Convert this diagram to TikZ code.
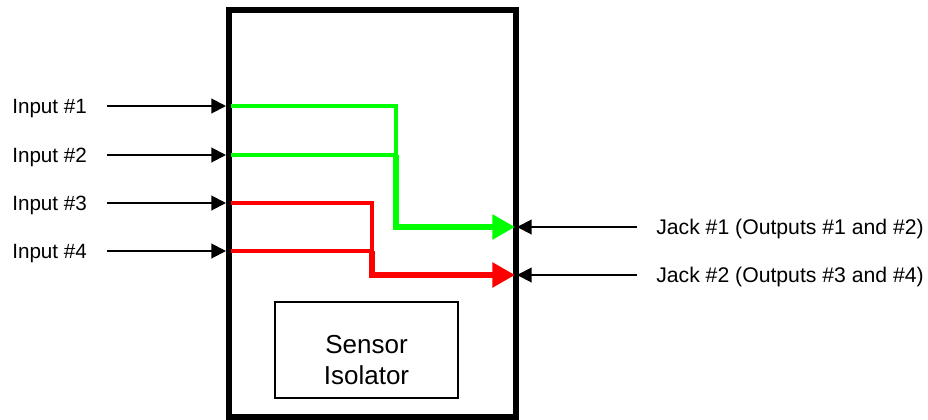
\documentclass[tikz,border=0pt]{standalone}
\usepackage{fontspec}
\setmainfont{Liberation Sans}
\usetikzlibrary{arrows.meta}
\definecolor{sig1}{RGB}{0,255,0}
\definecolor{sig2}{RGB}{255,0,0}
\begin{document}
\begin{tikzpicture}[x=0.75pt,y=-0.75pt,
  lbl/.style={font=\fontsize{15.5pt}{18pt}\selectfont, inner sep=0pt},
  jlbl/.style={font=\fontsize{15.9pt}{18pt}\selectfont, inner sep=0pt},
  feed/.style={line width=1.5pt,-{Triangle[length=11pt,width=11pt]}},
  route/.style={line width=2.4pt, line join=miter},
  trunk/.style={line width=5.2pt, line join=miter,-{Triangle[length=17pt,width=18pt]}}]
\useasboundingbox (0,0) rectangle (928,419);

% enclosure
\node[draw, line width=4.5pt, minimum width=215.25pt, minimum height=305.25pt, inner sep=0pt] (unit) at (372,213.5) {};

% isolator block
\node[draw, line width=0.8pt, minimum width=137.25pt, minimum height=72pt, inner sep=0pt] (iso) at (366.5,350) {};
\node[align=center, inner sep=0pt, font=\fontsize{19.5pt}{23.25pt}\selectfont] (isotxt) at ([yshift=-7.5pt]iso.center) {Sensor\\Isolator};

% inputs
\foreach \i/\y in {1/106,2/155,3/203,4/251}{
  \node[lbl, anchor=base west] (in\i) at (12,\y+7) {Input \#\i};
  \coordinate (s\i) at (107,\y);
  \coordinate (p\i) at (226,\y);
  \coordinate (q\i) at (231,\y);
  \draw[feed] (s\i) -- (p\i);
}

% outputs
\foreach \j/\y in {1/227,2/275}{
  \node[jlbl, anchor=base west] (jack\j) at (656,\y+7) {Jack \#\j\ (Outputs \#\the\numexpr2*\j-1\relax\ and \#\the\numexpr2*\j\relax)};
  \coordinate (t\j) at (637,\y);
  \coordinate (o\j) at (517,\y);
  \coordinate (r\j) at (515,\y);
  \draw[feed] (t\j) -- (o\j);
}

% green routing
\coordinate (g1) at (396,106);
\coordinate (g2) at (396,155);
\coordinate (g3) at (396,227);
\draw[route, sig1] (q1) -- (g1) -- (g2);
\draw[route, sig1] (q2) -- (g2);
\draw[trunk, sig1] (g2) -- (g3) -- (r1);

% red routing
\coordinate (k1) at (372,203);
\coordinate (k2) at (372,251);
\coordinate (k3) at (372,275);
\draw[route, sig2] (q3) -- (k1) -- (k2);
\draw[route, sig2] (q4) -- (k2);
\draw[trunk, sig2] (k2) -- (k3) -- (r2);
\end{tikzpicture}
\end{document}
